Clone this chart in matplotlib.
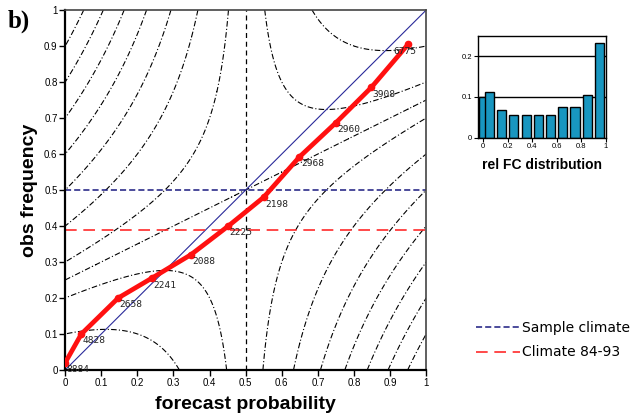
import numpy as np
import matplotlib
matplotlib.use('Agg')
import matplotlib.pyplot as plt

# reliability curve
fc_prob = [0.0, 0.045, 0.147, 0.24, 0.348, 0.452, 0.55, 0.649, 0.75, 0.848, 0.95]
obs_freq = [0.02, 0.10, 0.20, 0.255, 0.32, 0.40, 0.48, 0.592, 0.687, 0.785, 0.905]
counts = ['8884', '4828', '2658', '2241', '2088', '2225', '2198', '2968', '2960', '3908', '6775']

# relative forecast distribution
hist_pos = [0.0, 0.05, 0.15, 0.25, 0.35, 0.45, 0.55, 0.65, 0.75, 0.85, 0.95]
hist_val = [0.10, 0.111, 0.067, 0.056, 0.056, 0.056, 0.056, 0.076, 0.076, 0.104, 0.233]

sample_clim = 0.5
clim_8493 = 0.39
bss_levels = [-2.6, -2.2, -1.8, -1.4, -1.0, -0.6, -0.2, 0.2, 0.6]

plt.rcParams['font.family'] = ['Liberation Sans', 'DejaVu Sans']

fig = plt.figure(figsize=(6.39, 4.18), dpi=100)
ax = fig.add_axes([0.102, 0.115, 0.565, 0.861])

# skill score isolines
p, o = np.meshgrid(np.linspace(0, 1, 401), np.linspace(0, 1, 401))
bss = 4 * (2 * o - p - sample_clim) * (p - sample_clim)
dashdot = (0, (5, 2, 1, 2))
ax.contour(p, o, bss, levels=bss_levels, colors='black', linewidths=0.8,
           linestyles=[dashdot])
ax.contour(p, o, 2 * o - p - sample_clim, levels=[0], colors='black',
           linewidths=0.8, linestyles=[dashdot])
ax.axvline(sample_clim, color='black', lw=0.9, ls=(0, (4, 3)))

ax.plot([0, 1], [0, 1], color='#2a2a9a', lw=0.8)
h1 = ax.axhline(sample_clim, color='#1a1a80', lw=1.1, ls=(0, (4, 2)),
                label='Sample climate')
h2 = ax.axhline(clim_8493, color='#ff2a2a', lw=1.2, ls=(0, (7, 4)),
                label='Climate 84-93')

ax.plot(fc_prob, obs_freq, color='#ff1010', lw=3.4, marker='o', ms=4.5,
        solid_capstyle='round', zorder=5)
for i, (x, y, c) in enumerate(zip(fc_prob, obs_freq, counts)):
    dx = -11 if i == len(counts) - 1 else 1
    ax.annotate(c, (x, y), xytext=(dx, -5), textcoords='offset points',
                fontsize=6.8, family='DejaVu Sans Mono', color='#222222',
                va='center', ha='left', zorder=6)

ax.set_xlim(0, 1)
ax.set_ylim(0, 1)
ticks = np.round(np.arange(0, 1.01, 0.1), 1)
labels = ['0' if t == 0 else ('1' if t == 1 else f'{t:.1f}') for t in ticks]
ax.set_xticks(ticks)
ax.set_xticklabels(labels)
ax.set_yticks(ticks)
ax.set_yticklabels(labels)
ax.tick_params(labelsize=7, length=4, width=1, pad=1.5)
for s in ['left', 'bottom']:
    ax.spines[s].set_linewidth(1.6)
for s in ['top', 'right']:
    ax.spines[s].set_linewidth(1.2)
    ax.spines[s].set_color('#444444')
ax.set_xlabel('forecast probability', fontsize=14, fontweight='bold', labelpad=6)
ax.set_ylabel('obs frequency', fontsize=14, fontweight='bold', labelpad=4)

fig.text(0.012, 0.935, 'b)', fontsize=18, fontweight='bold',
         family='Liberation Serif')

# inset histogram
ax2 = fig.add_axes([0.7476, 0.671, 0.2003, 0.2435])
ax2.bar(hist_pos, hist_val, width=0.075, color='#1896c0', edgecolor='black',
        linewidth=1.0)
for g in [0.1, 0.2]:
    ax2.axhline(g, color='black', lw=1.0, zorder=0)
ax2.set_xlim(-0.045, 1.0)
ax2.set_ylim(0, 0.25)
ax2.set_xticks([0, 0.2, 0.4, 0.6, 0.8, 1])
ax2.set_xticklabels(['0', '0.2', '0.4', '0.6', '0.8', '1'])
ax2.set_yticks([0, 0.1, 0.2])
ax2.set_yticklabels(['0', '0.1', '0.2'])
ax2.tick_params(labelsize=5.5, length=3, width=0.8, pad=1)
for s in ax2.spines.values():
    s.set_linewidth(1.0)
ax2.set_xlabel('rel FC distribution', fontsize=10, fontweight='bold', labelpad=6)

fig.legend(handles=[h1, h2], loc='upper left', bbox_to_anchor=(0.725, 0.262),
           frameon=False, handlelength=3.2, handletextpad=0.1,
           labelspacing=0.75, prop={'family': 'DejaVu Sans', 'size': 10})

fig.savefig('out.png', dpi=100)
